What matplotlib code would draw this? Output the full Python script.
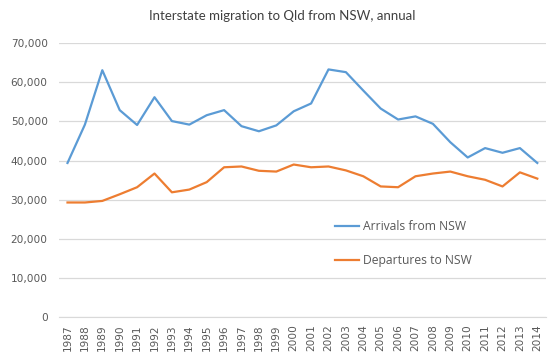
import matplotlib
matplotlib.use('Agg')
import matplotlib.pyplot as plt
from matplotlib.ticker import FuncFormatter

years = list(range(1987, 2015))
arrivals = [39400, 49200, 63100, 52900, 49100, 56200, 50100, 49200, 51600, 52900,
            48800, 47500, 49000, 52600, 54600, 63300, 62600, 57900, 53300, 50500,
            51300, 49400, 44700, 40800, 43200, 42000, 43200, 39400]
departures = [29300, 29300, 29700, 31400, 33200, 36700, 31900, 32600, 34500, 38300,
              38500, 37400, 37200, 39000, 38300, 38500, 37500, 36000, 33400, 33200,
              36000, 36700, 37200, 36000, 35100, 33400, 37000, 35400]

fig = plt.figure(figsize=(5.6, 3.6), dpi=100)
ax = fig.add_axes([0.105, 0.119, 0.87, 0.761])

x = range(len(years))
ax.plot(x, arrivals, color='#5b9bd5', lw=1.6, label='Arrivals from NSW')
ax.plot(x, departures, color='#ed7d31', lw=1.6, label='Departures to NSW')

ax.set_xlim(-0.5, len(years) - 0.5)
ax.set_ylim(0, 70000)
ax.set_yticks(range(0, 70001, 10000))
ax.yaxis.set_major_formatter(FuncFormatter(lambda v, p: f'{int(v):,}'))
ax.set_xticks(list(x))
ax.set_xticklabels([str(y) for y in years], rotation=90)
ax.tick_params(axis='both', length=0, labelsize=7.6, colors='#595959')
ax.tick_params(axis='y', pad=8)
ax.tick_params(axis='x', pad=5)
ax.grid(axis='y', color='#d9d9d9', lw=0.9)
ax.set_axisbelow(True)
for s in ['top', 'right', 'left']:
    ax.spines[s].set_visible(False)
ax.spines['bottom'].set_color('#d9d9d9')

fig.text(0.504, 0.955, 'Interstate migration to Qld from NSW, annual',
         ha='center', va='center', fontsize=9.5, color='#404040', family='Lato')

leg = ax.legend(loc='upper left', bbox_to_anchor=(0.545, 0.395), frameon=False,
                handlelength=2.0, handletextpad=0.3, labelspacing=1.75,
                prop={'family': 'Open Sans', 'size': 8.7})
for t in leg.get_texts():
    t.set_color('#595959')

fig.savefig('out.png', dpi=100)
